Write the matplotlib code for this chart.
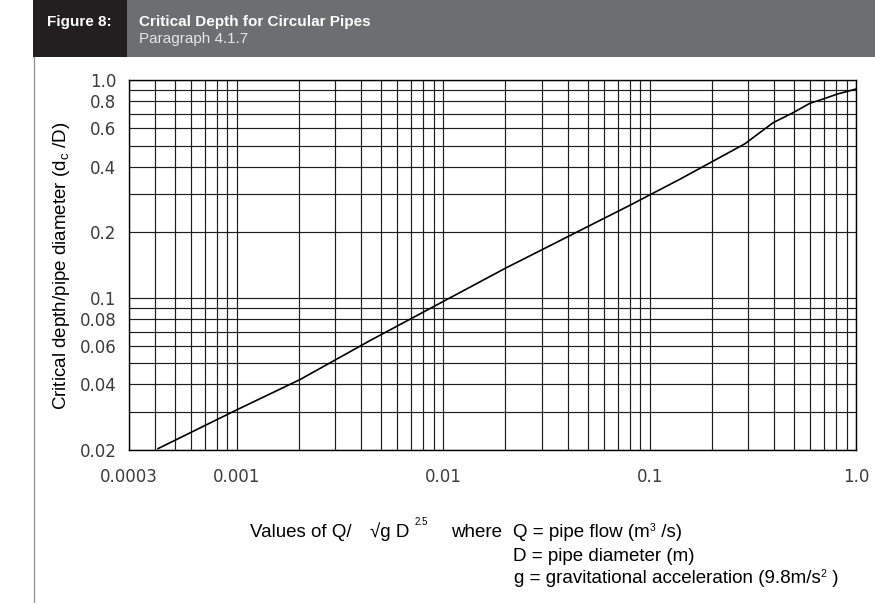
import matplotlib
matplotlib.use("Agg")
import matplotlib.pyplot as plt
from matplotlib.patches import Rectangle
from matplotlib.lines import Line2D
from matplotlib.ticker import NullFormatter

# Q / (sqrt(g) D^2.5) against critical depth ratio dc/D
q_values = [0.000415, 0.001, 0.00202, 0.00443, 0.01, 0.0201, 0.0809, 0.140,
            0.289, 0.397, 0.496, 0.598, 0.694, 0.806, 1.0]
depth_ratio = [0.0203, 0.0306, 0.0421, 0.0637, 0.0962, 0.137, 0.267, 0.350,
               0.509, 0.637, 0.708, 0.782, 0.818, 0.860, 0.909]

x_ticks = [0.0003, 0.001, 0.01, 0.1, 1.0]
x_tick_labels = ["0.0003", "0.001", "0.01", "0.1", "1.0"]
y_ticks = [0.02, 0.04, 0.06, 0.08, 0.1, 0.2, 0.4, 0.6, 0.8, 1.0]
y_tick_labels = ["0.02", "0.04", "0.06", "0.08", "0.1", "0.2", "0.4", "0.6", "0.8", "1.0"]

W, H = 875, 603
SANS = ["Liberation Sans", "DejaVu Sans"]

plt.rcParams["mathtext.fontset"] = "custom"
plt.rcParams["mathtext.rm"] = "Liberation Sans"
plt.rcParams["mathtext.it"] = "Liberation Sans:italic"

fig = plt.figure(figsize=(W / 100, H / 100), dpi=100)


def fx(px):
    return px / W


def fy(py):
    return 1 - py / H


# header band
fig.add_artist(Rectangle((fx(33), fy(57)), fx(127) - fx(33), 57 / H,
                         transform=fig.transFigure, color="#231f20", lw=0))
fig.add_artist(Rectangle((fx(127), fy(57)), 1 - fx(127), 57 / H,
                         transform=fig.transFigure, color="#6d6e71", lw=0))
fig.add_artist(Line2D([fx(33.5), fx(33.5)], [0, fy(57)], transform=fig.transFigure,
                      color="#8c8c8c", lw=0.9))
fig.text(fx(47), fy(26), "Figure 8:", color="white", fontsize=11, fontweight="bold",
         family=SANS, va="baseline")
fig.text(fx(139), fy(26), "Critical Depth for Circular Pipes", color="white", fontsize=11,
         fontweight="bold", family=SANS, va="baseline")
fig.text(fx(139), fy(43), "Paragraph 4.1.7", color="#e6e6e6", fontsize=11,
         family=SANS, va="baseline")

# chart
ax = fig.add_axes([fx(129), fy(450), fx(856) - fx(129), (450 - 80) / H])
ax.set_xscale("log")
ax.set_yscale("log")
ax.set_xlim(0.0003, 1.0)
ax.set_ylim(0.02, 1.0)

grid_x = [k * 10.0 ** e for e in range(-4, 1) for k in range(1, 10)]
grid_x = [v for v in grid_x if 0.0003 <= v <= 1.0]
grid_y = [k * 10.0 ** e for e in range(-2, 1) for k in range(1, 10)]
grid_y = [v for v in grid_y if 0.02 <= v <= 1.0]

ax.set_xticks(grid_x, minor=True)
ax.set_yticks(grid_y, minor=True)
ax.xaxis.set_minor_formatter(NullFormatter())
ax.yaxis.set_minor_formatter(NullFormatter())
ax.set_xticks(x_ticks, x_tick_labels)
ax.set_yticks(y_ticks, y_tick_labels)
ax.grid(True, which="both", color="#1e1e1e", lw=0.85)
ax.tick_params(which="both", length=0)
ax.tick_params(axis="x", pad=13, labelsize=12, labelcolor="#3c3c3c")
ax.tick_params(axis="y", pad=9, labelsize=12, labelcolor="#3c3c3c")
for lab in ax.get_xticklabels() + ax.get_yticklabels():
    lab.set_family("DejaVu Sans")
for sp in ax.spines.values():
    sp.set_color("black")
    sp.set_linewidth(1.0)

ax.plot(q_values, depth_ratio, color="black", lw=1.2, zorder=5)

fig.text(fx(62), fy(266), r"Critical depth/pipe diameter (d$_\mathregular{c}$ /D)",
         rotation=90, ha="center", va="center", fontsize=13.5, family=SANS)

# axis description below the chart, built from pieces so superscripts can be small
renderer = fig.canvas.get_renderer()


def text_run(x_px, base_px, parts):
    x = x_px
    for s, size, rise in parts:
        t = fig.text(fx(x), fy(base_px - rise), s, fontsize=size, family=SANS,
                     va="baseline", ha="left")
        bb = t.get_window_extent(renderer)
        x = bb.x1


text_run(250, 537, [("Values of Q/", 13.5, 0)])
text_run(370, 537, [("\u221ag D", 13.5, 0), ("  ", 6, 0), ("2.5", 7, 12)])
text_run(451, 537, [("where", 13.5, 0)])
text_run(513, 537, [("Q = pipe flow (m", 13.5, 0), ("3", 7.5, 6), (" /s)", 13.5, 0)])
text_run(513, 561, [("D = pipe diameter (m)", 13.5, 0)])
text_run(514, 583, [("g = gravitational acceleration (9.8m/s", 13.5, 0), ("2", 7.5, 6),
                    (" )", 13.5, 0)])

fig.savefig("out.png", dpi=100)
